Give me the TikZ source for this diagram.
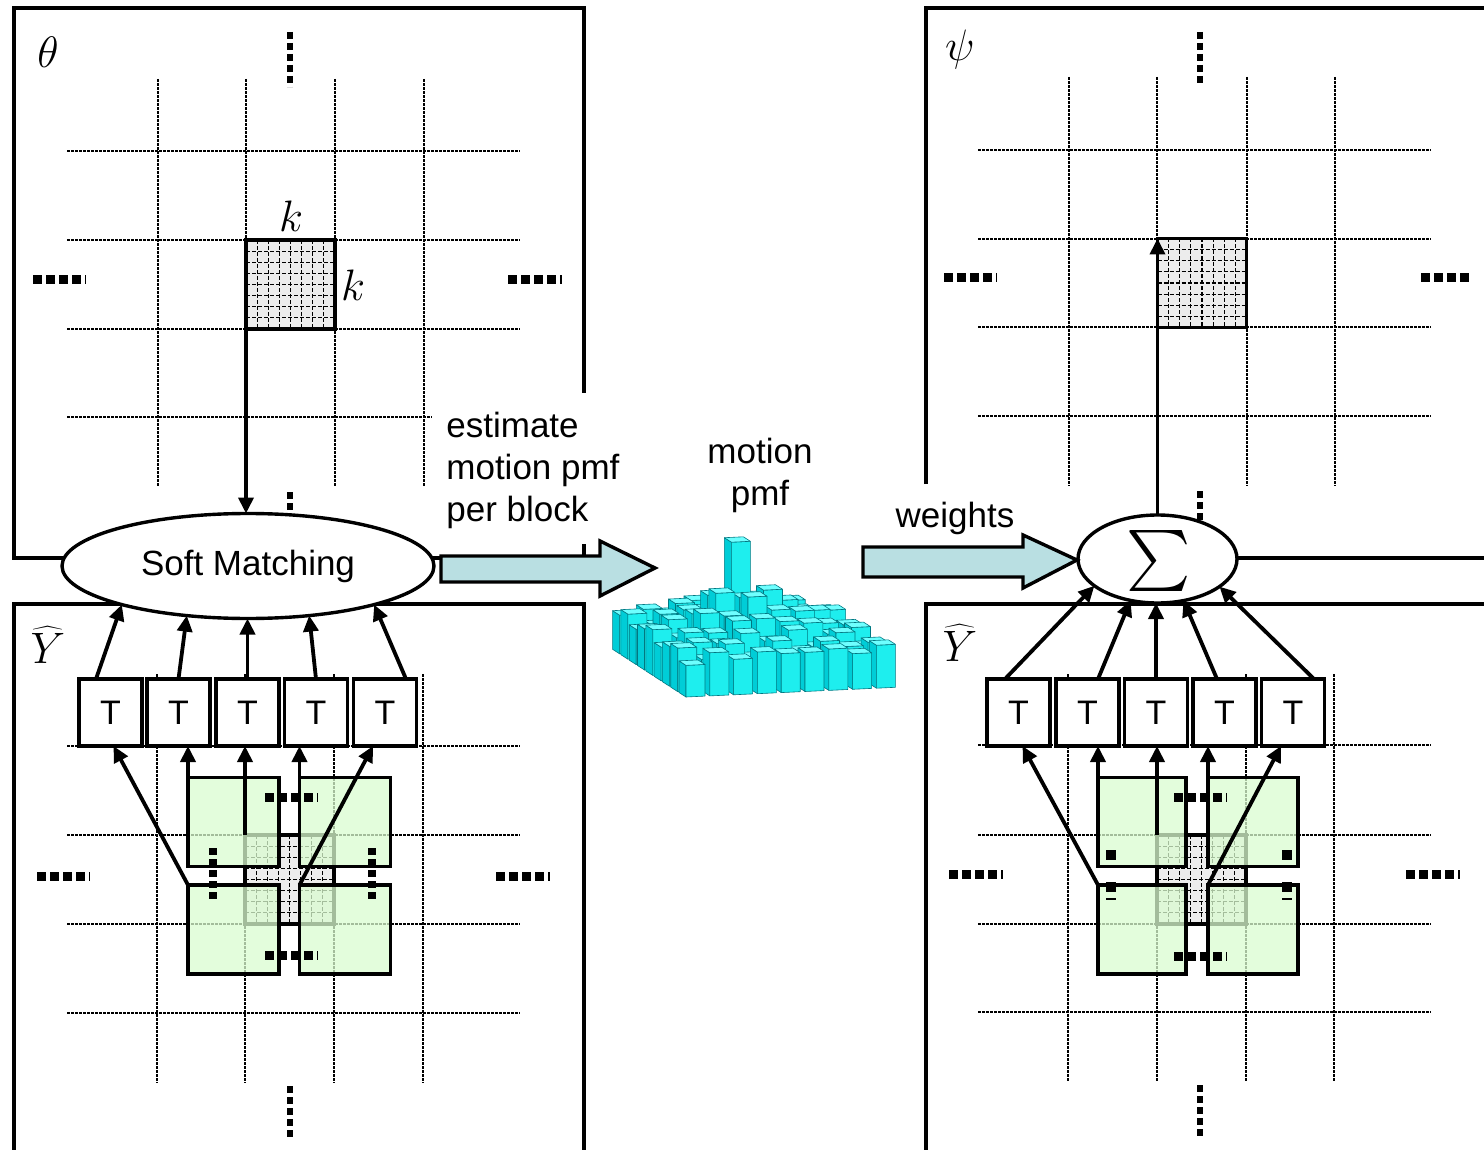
\RequirePackage{fix-cm}
\documentclass[tikz,border=0pt]{standalone}
\usepackage[no-math]{fontspec}
\setmainfont{Liberation Sans}
\usetikzlibrary{shapes.geometric,arrows.meta,calc}
\definecolor{gfill}{RGB}{218,252,208}
\definecolor{afill}{RGB}{185,223,226}
\definecolor{bfill}{RGB}{236,236,236}
\definecolor{cyfront}{RGB}{30,238,238}
\definecolor{cyleft}{RGB}{0,205,215}
\definecolor{cytop}{RGB}{110,255,255}
\definecolor{cyedge}{RGB}{0,120,130}
\newcommand\myfinegrid[1]{%
  \foreach \k in {1,...,7}{%
    \draw[fineln] ($(#1.north west)!\k/8!(#1.north east)$) -- ($(#1.south west)!\k/8!(#1.south east)$);
    \draw[fineln] ($(#1.north west)!\k/8!(#1.south west)$) -- ($(#1.north east)!\k/8!(#1.south east)$);
  }%
  \draw[line width=1.7pt] (#1.north west) rectangle (#1.south east);
}
\begin{document}
\begin{tikzpicture}[x=0.5pt,y=-0.5pt,
  panel/.style={line width=1.6pt},
  gridln/.style={line width=0.9pt, dash pattern=on 1.5pt off 0.5pt},
  fineln/.style={line width=0.55pt, dash pattern=on 2pt off 1pt},
  hdots/.style={line width=4.5pt, dash pattern=on 4.5pt off 2pt},
  vdots/.style={line width=3pt, dash pattern=on 3.5pt off 2pt},
  blk/.style={draw, line width=1.7pt, fill=bfill, minimum width=44.5pt, minimum height=44.5pt, inner sep=0pt, outer sep=0pt},
  gsq/.style={draw=black, line width=1.7pt, fill=gfill, fill opacity=0.75, minimum width=45.5pt, minimum height=44.5pt, inner sep=0pt, outer sep=0pt},
  tbox/.style={draw, line width=1.7pt, fill=white, minimum width=31.5pt, minimum height=33.5pt, inner sep=0pt, outer sep=0pt, font=\fontsize{17}{21}\selectfont},
  arr/.style={line width=1.9pt, -{Triangle[length=8pt,width=7.5pt]}},
  lbl/.style={font=\fontsize{17.5}{21}\selectfont},
  mlbl/.style={font=\fontsize{22}{26}\selectfont, inner sep=0pt},
  bigarrow/.style={draw, line width=1.7pt, fill=afill, line join=miter},
  ell/.style={draw, ellipse, line width=1.7pt, fill=white, inner sep=0pt, outer sep=0pt},
  bar/.style={draw=cyedge, line width=0.3pt, line join=round}
]
\useasboundingbox (0,0) rectangle (1484,1150);
\clip (0,0) rectangle (1484,1150);

% ---------- panels ----------
\draw[panel] (584,393) -- (584,8) -- (14,8) -- (14,558) -- (584,558) -- (584,540);
\draw[panel] (926,484) -- (926,8) -- (1500,8);
\draw[panel] (1150,558) -- (1500,558);
\draw[panel] (14,1170) -- (14,604) -- (584,604) -- (584,1170);
\draw[panel] (926,1170) -- (926,604) -- (1500,604);

% ---------- grids ----------
\foreach \x in {158,246,335,424} \draw[gridln] (\x,79) -- (\x,487);
\foreach \y in {151,240,329,417} \draw[gridln] (67,\y) -- (520,\y);
\foreach \x in {157,245,334,423} \draw[gridln] (\x,674) -- (\x,1083);
\foreach \y in {746,835,924,1013} \draw[gridln] (67,\y) -- (520,\y);
\foreach \x in {1069,1157,1247,1335} \draw[gridln] (\x,77) -- (\x,486);
\foreach \y in {150,239,327,416} \draw[gridln] (978,\y) -- (1431,\y);
\foreach \x in {1068,1157,1246,1334} \draw[gridln] (\x,674) -- (\x,1081);
\foreach \y in {745,835,924,1012} \draw[gridln] (978,\y) -- (1431,\y);

% ---------- blocks ----------
\node[blk] (blkA) at (290.5,284.5) {};
\myfinegrid{blkA}
\node[blk] (blkB) at (289.5,879.5) {};
\myfinegrid{blkB}
\node[blk] (blkC) at (1202,283) {};
\myfinegrid{blkC}
\node[blk] (blkD) at (1201.5,879.5) {};
\myfinegrid{blkD}

% ---------- ellipsis dots (panels) ----------
\draw[vdots] (290,32) -- (290,87);
\draw[hdots] (33,280) -- (86,280);
\draw[hdots] (508,280) -- (562,280);
\draw[vdots] (290,492) -- (290,514);
\draw[hdots] (37,876) -- (90,876);
\draw[hdots] (496,876) -- (550,876);
\draw[vdots] (290,1086) -- (290,1140);
\draw[vdots] (1200,32) -- (1200,86);
\draw[hdots] (944,278) -- (997,278);
\draw[hdots] (1421,278) -- (1473,278);
\draw[vdots] (1200,491) -- (1200,520);
\draw[hdots] (949,874) -- (1003,874);
\draw[hdots] (1406,874) -- (1460,874);
\draw[vdots] (1200,1085) -- (1200,1140);

% ---------- green squares ----------
\node[gsq] (gTL) at (233.5,822) {};
\node[gsq] (gTR) at (345,822) {};
\node[gsq] (gBL) at (233.5,929.5) {};
\node[gsq] (gBR) at (345,929.5) {};
\node[gsq, minimum width=44pt] (hTL) at (1142,822) {};
\node[gsq, minimum width=45pt] (hTR) at (1253,822) {};
\node[gsq, minimum width=44pt] (hBL) at (1142,929.5) {};
\node[gsq, minimum width=45pt] (hBR) at (1253,929.5) {};

% inner dots
\draw[hdots] (265,797) -- (318,797);
\draw[hdots] (265,955) -- (318,955);
\draw[vdots, line width=4pt] (213,848) -- (213,902);
\draw[vdots, line width=4pt] (372,848) -- (372,902);
\draw[hdots] (1174,797) -- (1227,797);
\draw[hdots] (1174,956) -- (1227,956);
\foreach \x in {1111,1287} {
  \fill (\x-5,850) rectangle (\x+5,860);
  \fill (\x-5,882) rectangle (\x+5,892);
  \draw[line width=1pt] (\x-5,899) -- (\x+5,899);
}

% ---------- T boxes ----------
\node[tbox] (T1) at (110.5,712.5) {T};
\node[tbox] (T2) at (178.5,712.5) {T};
\node[tbox] (T3) at (247.5,712.5) {T};
\node[tbox] (T4) at (316,712.5) {T};
\node[tbox] (T5) at (385,712.5) {T};
\node[tbox] (U1) at (1018.5,712.5) {T};
\node[tbox] (U2) at (1087.5,712.5) {T};
\node[tbox] (U3) at (1156,712.5) {T};
\node[tbox] (U4) at (1224.5,712.5) {T};
\node[tbox] (U5) at (1293,712.5) {T};

% arrows squares -> T
\draw[arr] (gBL.north west) -- ($(T1.south)+(3,0)$);
\draw[arr] (gTL.north west) -- (gTL.north west |- T2.south);
\draw[arr] (blkB.north west) -- (blkB.north west |- T3.south);
\draw[arr] (gTR.north west) -- (gTR.north west |- T4.south);
\draw[arr] (gBR.north west) -- ($(T5.south)+(-12,0)$);
\draw[arr] (hBL.north west) -- ($(U1.south)+(4,0)$);
\draw[arr] (hTL.north west) -- (hTL.north west |- U2.south);
\draw[arr] (blkD.north west) -- (blkD.north west |- U3.south);
\draw[arr] (hTR.north west) -- (hTR.north west |- U4.south);
\draw[arr] (hBR.north west) -- ($(U5.south)+(-12,0)$);

% ---------- texts ----------
\node[lbl, align=left, fill=white, anchor=west, inner xsep=7pt, inner ysep=8pt] (est) at (432,470) {estimate\\motion pmf\\per block};
\node[lbl, align=center] (mp) at (760,475) {motion\\pmf};
\node[lbl, inner sep=0pt] (wt) at (955,518) {weights};

% ---------- ellipses ----------
\node[ell, minimum width=186pt, minimum height=52.5pt, font=\fontsize{17.5}{21}\selectfont] (sm) at (248,566) {Soft Matching};
\node[ell, minimum width=79.5pt, minimum height=44pt] (sig) at (1157.5,559) {};
\node[scale=3.05, inner sep=0pt] (sigtxt) at (1159,561) {$\sum$};

\draw[arr] (blkA.north west) -- (blkA.north west |- sm.north);
\draw[arr] (blkC.south west |- sig.north) -- (blkC.north west);

% arrows T -> ellipses
\draw[arr] ($(T1.north)+(-14.5,0)$) -- (sm.197.7);
\draw[arr] (T2.north) -- (sm.219);
\draw[arr] (T3.north) -- (T3.north |- sm.south);
\draw[arr] (T4.north) -- (sm.321);
\draw[arr] ($(T5.north)+(21,0)$) -- (sm.343.4);
\draw[arr] ($(U1.north)+(-13.5,0)$) -- (sig.203.8);
\draw[arr] ($(U2.north)+(10.5,0)$) -- (sig.237.5);
\draw[arr] (U3.north) -- (U3.north |- sig.south);
\draw[arr] ($(U4.north)+(-7.5,0)$) -- (sig.302.5);
\draw[arr] ($(U5.north)+(21,0)$) -- (sig.336.8);

% ---------- big arrows ----------
\draw[bigarrow] (441,556) -- (600,556) -- (600,541) -- (655,568) -- (600,596) -- (600,582) -- (441,582) -- cycle;
\draw[bigarrow] (863,547) -- (1023,547) -- (1023,535) -- (1077,560) -- (1023,588) -- (1023,577) -- (863,577) -- cycle;

% ---------- histogram ----------
\foreach \j in {8,7,...,0} {
  \foreach \i in {8,7,...,0} {
    \pgfmathsetmacro\bx{686+23.8*\i-8.3*\j}
    \pgfmathsetmacro\by{697-1.1*\i-5.4*\j}
    \pgfmathsetmacro\hh{(\i==4 && \j==6) ? 118 : 28+36*exp(-((\i-4)^2+(\j-5)^2)/6)+16*abs(sin(97*\i+61*\j+13))}
    \draw[bar, fill=cyleft] (\bx,\by) -- ++(-7,-4.5) -- ++(0,-\hh) -- ++(7,4.5) -- cycle;
    \draw[bar, fill=cyfront] (\bx,\by) -- ++(19,-0.9) -- ++(0,-\hh) -- ++(-19,0.9) -- cycle;
    \draw[bar, fill=cytop] (\bx,\by-\hh) -- ++(19,-0.9) -- ++(-7,-4.5) -- ++(-19,0.9) -- cycle;
  }
}

% ---------- math labels ----------
\node[mlbl] (th) at (48,52) {$\theta$};
\node[mlbl] (ps) at (960,50) {$\psi$};
\node[mlbl] (kt) at (291,216) {$k$};
\node[mlbl] (kr) at (353,285) {$k$};
\node[mlbl] (y1) at (48,645) {$\widehat{Y}$};
\node[mlbl] (y2) at (960,643) {$\widehat{Y}$};
\end{tikzpicture}
\end{document}
